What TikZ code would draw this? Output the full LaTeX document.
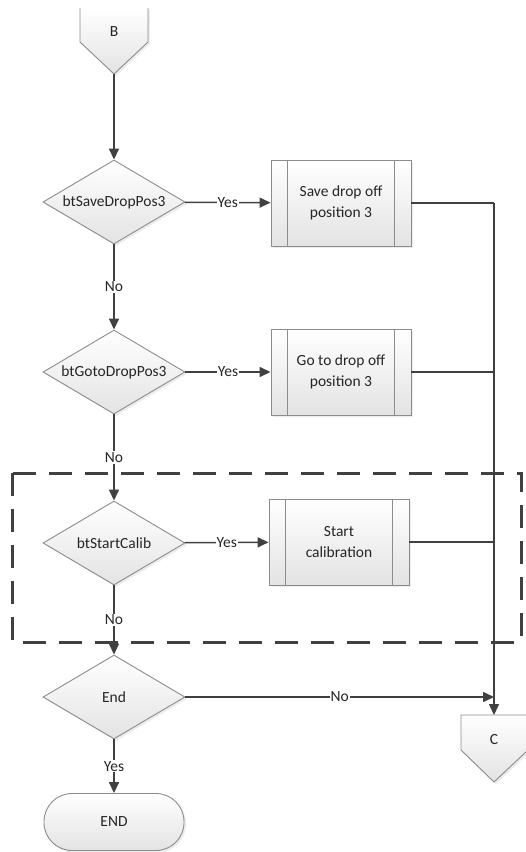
\documentclass[tikz,border=0pt]{standalone}
\usepackage{fontspec}
\setmainfont{Carlito}
\usetikzlibrary{shapes.geometric,arrows.meta,shadows}
\definecolor{lc}{HTML}{404040}
\definecolor{bc}{HTML}{8C8C8C}
\definecolor{tc}{HTML}{262626}
\begin{document}
\begin{tikzpicture}[x=1pt,y=-1pt,
 font=\fontsize{15.5}{21}\selectfont, text=tc,
 fillsh/.style={top color=white, bottom color=black!11, drop shadow={shadow xshift=2pt,shadow yshift=-2pt,opacity=0.15}},
 shp/.style={draw=bc, line width=0.9pt, fillsh},
 dec/.style={shp, diamond, aspect=1.7, minimum width=142pt, minimum height=84pt, inner sep=0pt},
 proc/.style={shp, rectangle, minimum width=140pt, minimum height=86pt, align=center, inner sep=0pt},
 term/.style={shp, rectangle, rounded corners=28pt, minimum width=140pt, minimum height=57pt},
 con/.style={draw=lc, line width=1.5pt, -{Triangle[length=11pt,width=10pt]}},
 ln/.style={draw=lc, line width=1.5pt},
 lab/.style={fill=white, inner sep=1pt, text=tc},
 grp/.style={draw=lc, line width=3pt, dash pattern=on 23pt off 13pt}
]
\useasboundingbox (0,0) rectangle (526,852);

% group frame
\draw[grp] (12,473) rectangle (521,642);

% off-page connector B
\path[fillsh] (80,8) -- (148,8) -- (148,42) -- (114,74) -- (80,42) -- cycle;
\draw[bc, line width=0.9pt] (80,8) -- (80,42) -- (114,74) -- (148,42) -- (148,8);
\node (B) at (114,32) {B};
\coordinate (Bp) at (114,74);

% off-page connector C
\path[fillsh] (461,715) -- (528,715) -- (528,750) -- (494,782) -- (461,750) -- cycle;
\draw[bc, line width=0.9pt] (528,715) -- (461,715) -- (461,750) -- (494,782) -- (528,750);
\node (C) at (494,740) {C};
\coordinate (Ct) at (494,715);

% decisions
\node[dec] (d1) at (114,202) {btSaveDropPos3};
\node[dec] (d2) at (114,372) {btGotoDropPos3};
\node[dec] (d3) at (114,543) {btStartCalib};
\node[dec] (d4) at (114,697) {End};

% processes
\node[proc] (p1) at (341,203) {Save drop off\\position 3};
\node[proc] (p2) at (341,372) {Go to drop off\\position 3};
\node[proc] (p3) at (339,542) {Start\\calibration};
\foreach \p in {p1,p2,p3}{
  \draw[bc, line width=0.9pt] ([xshift=17pt]\p.north west) -- ([xshift=17pt]\p.south west);
  \draw[bc, line width=0.9pt] ([xshift=-17pt]\p.north east) -- ([xshift=-17pt]\p.south east);
}

% terminator
\node[term] (end) at (114,822) {END};

% junctions on the right collector line
\coordinate (j1) at (494,203);
\coordinate (j2) at (494,372);
\coordinate (j3) at (494,542);

% connectors
\draw[con] (Bp) -- (d1);
\draw[con] (d1) -- node[lab]{No} (d2);
\draw[con] (d2) -- node[lab]{No} (d3);
\draw[con] (d3) -- node[lab]{No} (d4);
\draw[con] (d4) -- node[lab]{Yes} (end);

\draw[con] (d1) -- node[lab]{Yes} (p1);
\draw[con] (d2) -- node[lab]{Yes} (p2);
\draw[con] (d3) -- node[lab]{Yes} (p3);

\draw[ln] (p1.east) -- (j1);
\draw[ln] (p2.east) -- (j2);
\draw[ln] (p3.east) -- (j3);
\draw[con] (j1) -- (Ct);

\draw[con] (d4.east) -- node[lab]{No} (d4.east -| Ct);
\end{tikzpicture}
\end{document}
